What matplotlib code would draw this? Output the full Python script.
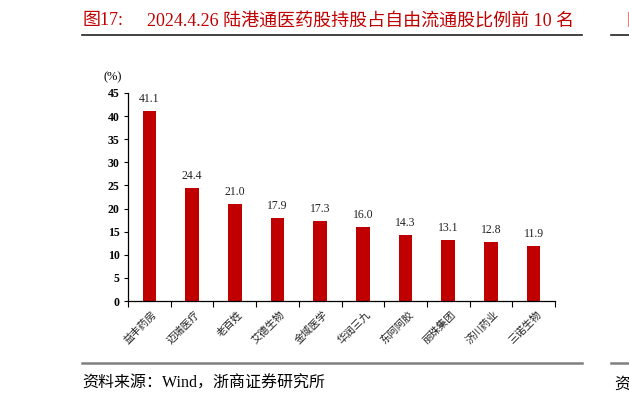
import matplotlib
matplotlib.use('Agg')
import matplotlib.pyplot as plt
from matplotlib.lines import Line2D

# data
names = ['益丰药房', '迈瑞医疗', '老百姓', '艾德生物', '金域医学',
         '华润三九', '东阿阿胶', '丽珠集团', '济川药业', '三诺生物']
ratios = [41.1, 24.4, 21.0, 17.9, 17.3, 16.0, 14.3, 13.1, 12.8, 11.9]
yticks = [0, 5, 10, 15, 20, 25, 30, 35, 40, 45]

title_no = '图17:'
title_txt = '2024.4.26 陆港通医药股持股占自由流通股比例前 10 名'
source_txt = '资料来源：Wind，浙商证券研究所'

RED = '#C00000'
MIX = ['Liberation Serif', 'Noto Sans CJK SC']
CJK = ['Noto Sans CJK SC', 'DejaVu Sans']

W, H = 629, 405
fig = plt.figure(figsize=(W / 100, H / 100), dpi=100)
ax = fig.add_axes([128 / W, 104 / H, 427 / W, 208 / H])

x = list(range(len(names)))
ax.bar(x, ratios, width=0.32, color=RED, zorder=2)
for xi, v in zip(x, ratios):
    ax.text(xi, v + 1.3, f'{v:.1f}', ha='center', va='bottom',
            fontsize=8.5, family=MIX, color='#222222')

ax.set_xlim(-0.5, len(names) - 0.5)
ax.set_ylim(0, 45)
ax.set_yticks(yticks)
ax.set_yticklabels([str(t) for t in yticks], family=MIX, fontweight='bold', fontsize=8.5)
ax.tick_params(axis='y', direction='out', length=3, width=0.8, pad=3)

# category boundaries carry the ticks
ax.set_xticks([i - 0.5 for i in range(len(names) + 1)])
ax.set_xticklabels([])
ax.tick_params(axis='x', direction='out', length=4, width=0.8)
for xi, n in zip(x, names):
    ax.text(xi + 0.05, -1.8, n, rotation=45, ha='right', va='top',
            rotation_mode='anchor', fontsize=7.5, family=CJK, color='#222222')

for s in ['top', 'right']:
    ax.spines[s].set_visible(False)
for s in ['left', 'bottom']:
    ax.spines[s].set_linewidth(0.9)

fig.text(104 / W, 1 - 77 / H, '(%)', fontsize=9, family=MIX, va='center')

# header / footer
fig.text(82 / W, 1 - 21 / H, title_no, color=RED, fontsize=13, family=MIX, va='center')
fig.text(147 / W, 1 - 21 / H, title_txt, color=RED, fontsize=13, family=MIX, va='center')
fig.text(626 / W, 1 - 21 / H, '图', color=RED, fontsize=13, family=CJK, va='center')
fig.add_artist(Line2D([82 / W, 582 / W], [1 - 35 / H] * 2, color='#222222', lw=1.2))
fig.add_artist(Line2D([611 / W, 1], [1 - 35 / H] * 2, color='#222222', lw=1.2))

fig.add_artist(Line2D([82 / W, 582 / W], [1 - 363 / H] * 2, color='#808080', lw=1.8))
fig.add_artist(Line2D([611 / W, 1], [1 - 363 / H] * 2, color='#808080', lw=1.8))
fig.text(82 / W, 1 - 384 / H, source_txt, fontsize=11.5, family=MIX, va='center')
fig.text(614 / W, 1 - 384 / H, '资', fontsize=11.5, family=CJK, va='center')

fig.savefig('out.png', dpi=100)
